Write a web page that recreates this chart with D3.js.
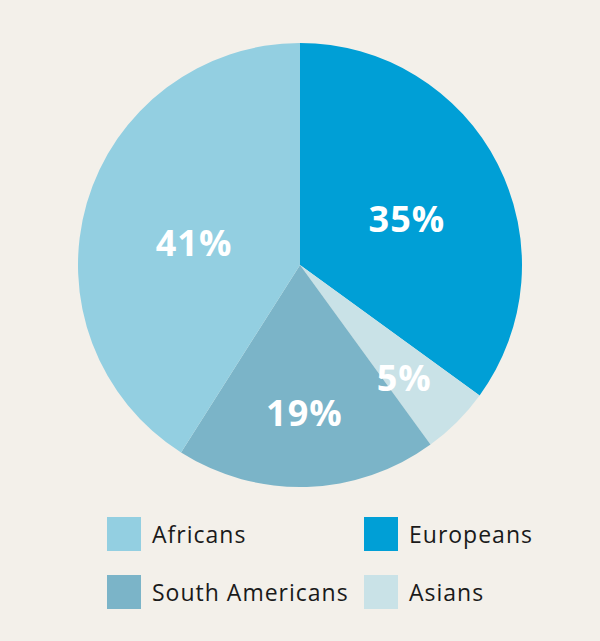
<!DOCTYPE html>
<html><head><meta charset="utf-8">
<script src="https://cdn.jsdelivr.net/npm/d3@7"></script>
<style>body{margin:0;background:#f3f0ea;}svg{display:block;}</style>
</head><body>
<script>
const categories = ["Europeans", "Asians", "South Americans", "Africans"];
const values = [35, 5, 19, 41];
const colors = ["#009fd6", "#c9e2e7", "#7bb4c8", "#93cfe1"];
const legendOrder = ["Africans", "Europeans", "South Americans", "Asians"];

const W = 600, H = 641, cx = 300, cy = 265, R = 222;
const svg = d3.select("body").append("svg").attr("width", W).attr("height", H);
svg.append("rect").attr("width", W).attr("height", H).attr("fill", "#f3f0ea");

const data = categories.map((c, i) => ({cat: c, value: values[i]}));
const color = d3.scaleOrdinal().domain(categories).range(colors);
const pie = d3.pie().value(d => d.value).sort(null);
const arc = d3.arc().innerRadius(0).outerRadius(R);
const arcs = pie(data);
const g = svg.append("g").attr("transform", `translate(${cx},${cy})`);
g.selectAll("path").data(arcs).join("path").attr("d", arc).attr("fill", d => color(d.data.cat));

// labels at area centroid of each sector
g.selectAll("text").data(arcs).join("text")
  .attr("transform", d => {
    const a = d.endAngle - d.startAngle, m = (d.startAngle + d.endAngle) / 2;
    const r = 4 * R * Math.sin(a / 2) / (3 * a);
    return `translate(${r * Math.sin(m)},${-r * Math.cos(m)})`;
  })
  .attr("text-anchor", "middle").attr("dy", "0.6em")
  .attr("fill", "#fff").attr("font-family", "'Open Sans', sans-serif").attr("font-weight", 700)
  .attr("font-size", 36).attr("letter-spacing", 1)
  .text(d => d.data.value + "%");

// legend
const lx = d3.scalePoint().domain([0, 1]).range([107, 364]);
const ly = d3.scalePoint().domain([0, 1]).range([517, 575]);
const lg = svg.append("g").selectAll("g").data(legendOrder).join("g")
  .attr("transform", (d, i) => `translate(${lx(i % 2)},${ly(Math.floor(i / 2))})`);
lg.append("rect").attr("width", 34).attr("height", 34).attr("fill", d => color(d));
lg.append("text").attr("x", 45).attr("y", 26).attr("font-family", "'Open Sans', sans-serif")
  .attr("font-size", 23).attr("letter-spacing", 1).attr("fill", "#1a1a1a").text(d => d);
</script>
</body></html>
